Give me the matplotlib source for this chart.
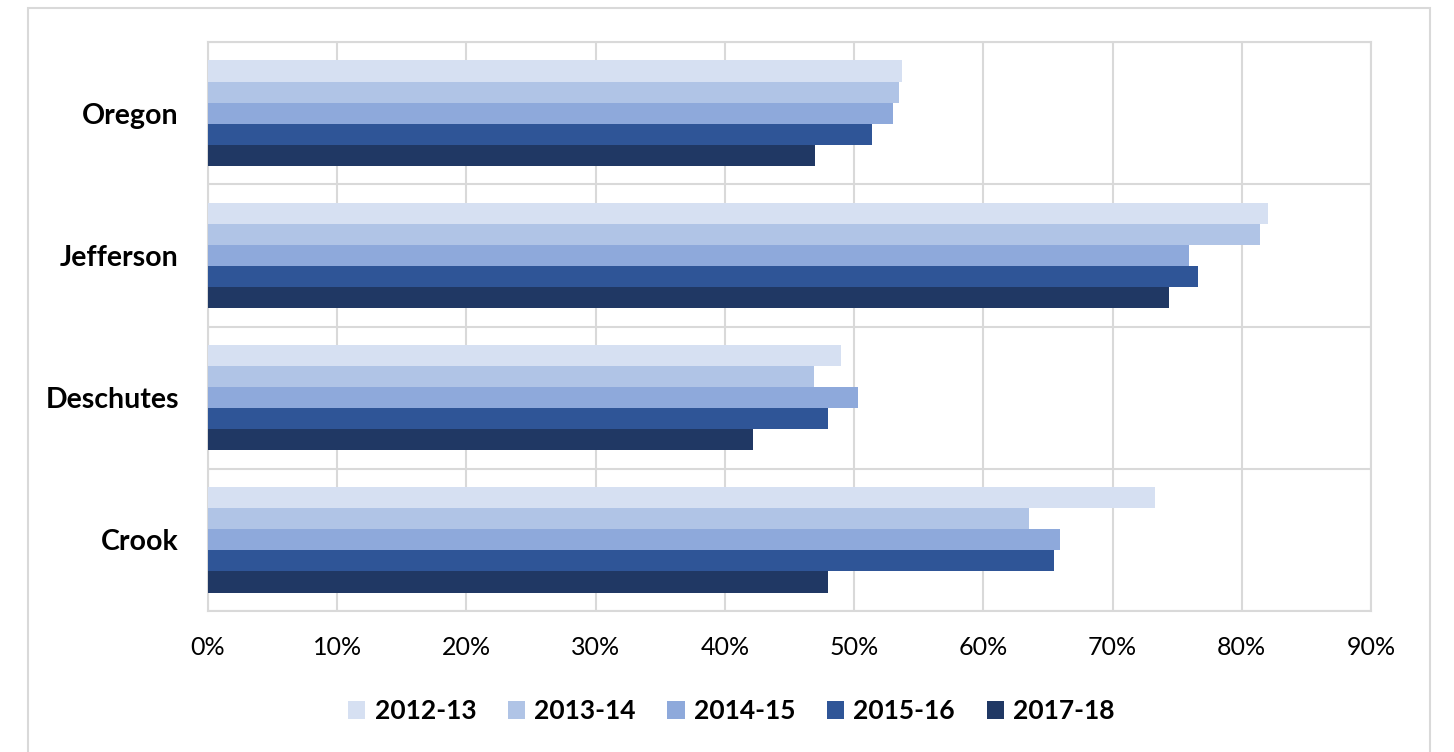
import matplotlib.pyplot as plt
import numpy as np
from matplotlib.patches import Rectangle
from matplotlib.ticker import PercentFormatter

counties = ["Crook", "Deschutes", "Jefferson", "Oregon"]
years = ["2012-13", "2013-14", "2014-15", "2015-16", "2017-18"]
colors = ["#D6E0F2", "#B0C4E6", "#8EA9DB", "#2F5597", "#203864"]

# values per year, in county order above (percent)
v_2012 = [73.3, 49.0, 82.0, 53.7]
v_2013 = [63.5, 46.9, 81.4, 53.5]
v_2014 = [65.9, 50.3, 75.9, 53.0]
v_2015 = [65.5, 48.0, 76.6, 51.4]
v_2017 = [48.0, 42.2, 74.4, 47.0]
series = [v_2012, v_2013, v_2014, v_2015, v_2017]

plt.rcParams["font.family"] = ["Lato", "DejaVu Sans"]

fig = plt.figure(figsize=(14.54, 7.52), dpi=100)
fig.patch.set_facecolor("white")

# outer chart frame
fig.add_artist(Rectangle((28 / 1454, -0.05), (1430 - 28) / 1454, (752 - 8) / 752 + 0.05,
                         transform=fig.transFigure, fill=False, edgecolor="#D9D9D9", linewidth=1.5))

ax = fig.add_axes([208 / 1454, (752 - 611) / 752, (1371 - 208) / 1454, (611 - 42) / 752])

y = np.arange(len(counties))
h = 0.148
for i, (vals, col, lab) in enumerate(zip(series, colors, years)):
    ax.barh(y + (2 - i) * h, vals, height=h, color=col, label=lab, zorder=3)

ax.set_xlim(0, 90)
ax.set_ylim(-0.5, 3.5)
ax.set_xticks(np.arange(0, 91, 10))
ax.xaxis.set_major_formatter(PercentFormatter(decimals=0))
ax.set_yticks(y)
ax.set_yticklabels(counties, fontsize=20.5, fontweight="bold")
ax.set_yticks(np.arange(-0.5, 3.6, 1), minor=True)
ax.grid(axis="x", which="major", color="#D9D9D9", linewidth=1.5, zorder=0)
ax.grid(axis="y", which="minor", color="#D9D9D9", linewidth=1.5, zorder=0)
ax.tick_params(axis="both", which="both", length=0)
ax.tick_params(axis="x", labelsize=18, pad=18)
ax.tick_params(axis="y", pad=21)
for s in ax.spines.values():
    s.set_color("#D9D9D9")
    s.set_linewidth(1.5)

leg = fig.legend(loc="center", bbox_to_anchor=(0.503, (752 - 711) / 752), ncol=5, frameon=False,
                 prop={"size": 19, "weight": "bold"}, handlelength=0.65, handleheight=0.65,
                 handletextpad=0.35, columnspacing=1.2)

fig.savefig("out.png", dpi=100, facecolor="white")
